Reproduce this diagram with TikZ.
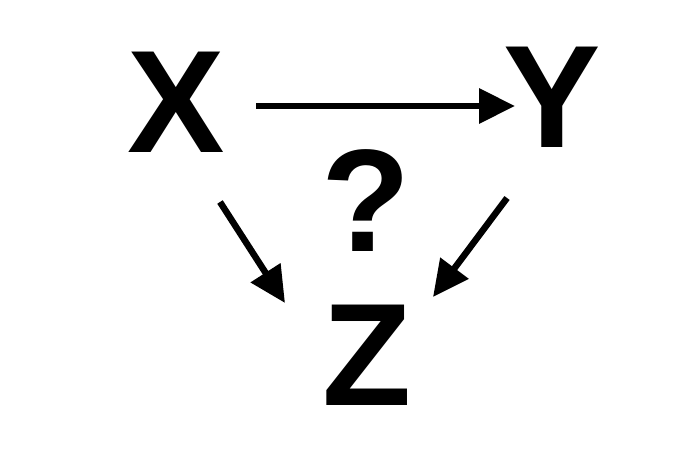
\documentclass[tikz,border=0pt]{standalone}
\usepackage{fontspec}
\setmainfont{Liberation Sans}
\usetikzlibrary{arrows.meta}
\begin{document}
\begin{tikzpicture}[x=1pt,y=1pt,
  lbl/.style={inner sep=0pt,font=\fontsize{146}{146}\selectfont\bfseries},
  arr/.style={line width=6.5pt,-{Triangle[length=36pt,width=34pt]}}]
\useasboundingbox[fill=white] (0,0) rectangle (691,455);
\node[lbl] (X) at (176.5,352.5) {X};
\node[lbl] (Y) at (552.5,357.5) {Y};
\node[lbl] (Q) at (366.5,254) {?};
\node[lbl] (Z) at (367,100) {Z};
\coordinate (xs) at ([shift={(79.5,-3.5)}]X.center);
\coordinate (yt) at ([shift={(-37.5,-8.5)}]Y.center);
\coordinate (xz) at ([shift={(43.5,-99.5)}]X.center);
\coordinate (zx) at ([shift={(-82,52)}]Z.center);
\coordinate (yz) at ([shift={(-45.5,-100.5)}]Y.center);
\coordinate (zy) at ([shift={(66,58)}]Z.center);
\draw[arr] (xs) -- (yt);
\draw[arr] (xz) -- (zx);
\draw[arr] (yz) -- (zy);
\end{tikzpicture}
\end{document}
